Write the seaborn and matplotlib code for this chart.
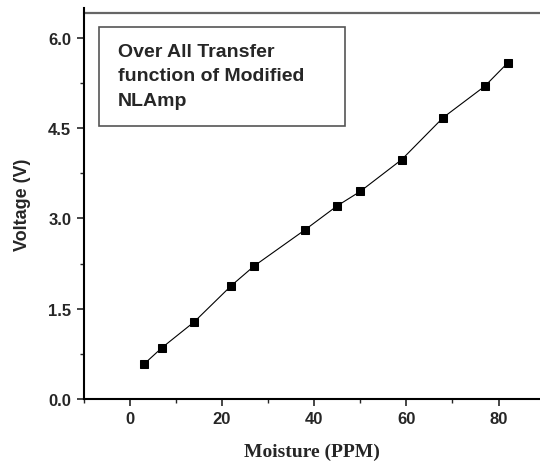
import seaborn as sns
import numpy as np
import pandas as pd
import matplotlib.pyplot as plt
from matplotlib.patches import Rectangle
from matplotlib.ticker import MultipleLocator, FormatStrFormatter

# data
moisture = [3, 7, 14, 22, 27, 38, 45, 50, 59, 68, 77, 82]
voltage = [0.57, 0.85, 1.28, 1.88, 2.21, 2.81, 3.21, 3.45, 3.98, 4.68, 5.20, 5.59]
x_ticks = [0, 20, 40, 60, 80]
y_ticks = [0.0, 1.5, 3.0, 4.5, 6.0]
box_text = "Over All Transfer\nfunction of Modified\nNLAmp"

sns.set_style("ticks")
sans = ['Liberation Sans Narrow', 'Liberation Sans', 'DejaVu Sans']
plt.rcParams['font.family'] = sans
plt.rcParams['font.weight'] = 'bold'

df = pd.DataFrame({'Moisture': moisture, 'Voltage': voltage})

fig = plt.figure(figsize=(5.4, 4.64), dpi=100)
ax = fig.add_axes([0.155, 0.1386, 0.845, 0.8416])

sns.lineplot(data=df, x='Moisture', y='Voltage', ax=ax, color='black',
             linewidth=0.8, marker='s', markersize=5.5, markeredgecolor='black',
             markerfacecolor='black')

ax.set_xlim(-10, 89)
ax.set_ylim(0, 6.5)
ax.set_xticks(x_ticks)
ax.set_yticks(y_ticks)
ax.xaxis.set_minor_locator(MultipleLocator(10))
ax.yaxis.set_minor_locator(MultipleLocator(0.75))
ax.yaxis.set_major_formatter(FormatStrFormatter('%.1f'))
ax.tick_params(which='major', direction='out', length=5, width=1.2,
               labelsize=12, pad=4)
ax.tick_params(which='minor', direction='out', length=3, width=1.0)
for lab in ax.get_xticklabels() + ax.get_yticklabels():
    lab.set_fontweight('bold')

for side in ['top', 'right']:
    ax.spines[side].set_visible(False)
for side in ['left', 'bottom']:
    ax.spines[side].set_linewidth(1.5)
    ax.spines[side].set_color('black')

# grey frame line below the top of the y axis
ax.axhline(6.42, color='#666666', linewidth=1.6, clip_on=False)

ax.set_xlabel('Moisture (PPM)', family=['Liberation Serif', 'DejaVu Serif'],
              fontweight='bold', fontsize=14, labelpad=12)
ax.set_ylabel('Voltage (V)', fontweight='bold', fontsize=13, labelpad=12)

# text box
ax.add_patch(Rectangle((0.0335, 0.698), 0.539, 0.254, transform=ax.transAxes,
                       facecolor='white', edgecolor='#555555', linewidth=1.2,
                       zorder=3))
ax.text(0.075, 0.91, box_text, transform=ax.transAxes, ha='left', va='top',
        family=['Liberation Sans', 'DejaVu Sans'], fontsize=14,
        fontweight='bold', linespacing=1.55, zorder=4)

fig.savefig('out.png', dpi=100)
